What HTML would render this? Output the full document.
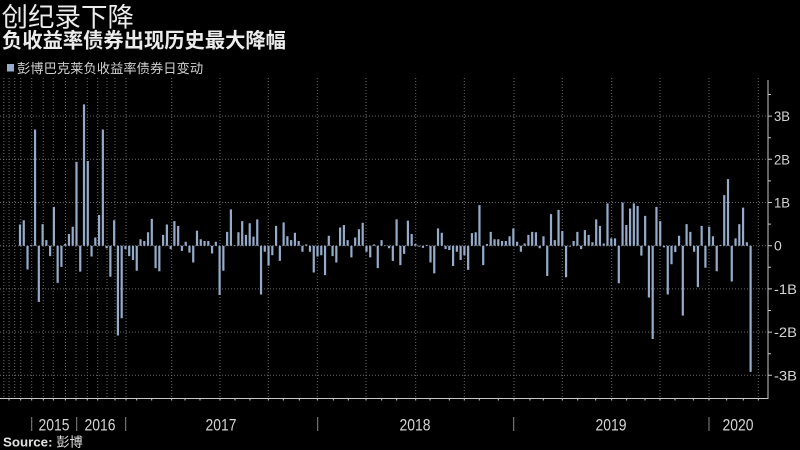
<!DOCTYPE html>
<html><head><meta charset="utf-8"><style>
html,body{margin:0;padding:0;background:#000;}
svg{display:block;}
</style></head><body>
<svg width="800" height="450" viewBox="0 0 800 450" xmlns="http://www.w3.org/2000/svg">
<rect width="800" height="450" fill="#000"/>
<text x="1.5" y="26.5" font-family="'Liberation Sans','Noto Sans CJK SC',sans-serif" font-size="26.5" fill="#ececec">创纪录下降</text>
<text x="2" y="47.5" font-family="'Liberation Sans','Noto Sans CJK SC',sans-serif" font-size="20.3" font-weight="bold" fill="#ececec">负收益率债券出现历史最大降幅</text>
<rect x="7" y="64" width="7" height="7.5" fill="#95abc9"/>
<text x="17" y="73" font-family="'Liberation Sans','Noto Sans CJK SC',sans-serif" font-size="13.3" fill="#cfcfcf">彭博巴克莱负收益率债券日变动</text>

<g stroke="#6a6a6a" stroke-width="1" stroke-dasharray="1,2" fill="none">
<path d="M0 116.1H768M0 159.3H768M0 202.5H768M0 245.7H768M0 288.9H768M0 332.1H768M0 375.3H768"/>
<path d="M3.8 78V398M9 78V398M14.7 78V398M20.7 78V398M31.7 78V398M43.3 78V398M53.3 78V398M65.5 78V398M76 78V398M87.3 78V398M97.7 78V398M107 78V398M115 78V398M126 78V398M171.7 78V398M220 78V398M268.3 78V398M317.3 78V398M366 78V398M415.7 78V398M464.3 78V398M514 78V398M562.3 78V398M611.7 78V398M660 78V398M709 78V398M758.3 78V398"/>
</g>

<g transform="translate(18.9,245.7) scale(3.766,-43.2)" fill="#95abc9">
<path d="M0 0h.584V0.49h-.584zM1 0h.584V0.59h-.584zM2 0h.584V-0.55h-.584zM3 0h.584V0.02h-.584zM4 0h.584V2.69h-.584zM5 0h.584V-1.30h-.584zM6 0h.584V0.50h-.584zM7 0h.584V0.13h-.584zM8 0h.584V-0.24h-.584zM9 0h.584V0.90h-.584zM10 0h.584V-0.86h-.584zM11 0h.584V-0.49h-.584zM12 0h.584V0.04h-.584zM13 0h.584V0.27h-.584zM14 0h.584V0.44h-.584zM15 0h.584V1.94h-.584zM16 0h.584V-0.60h-.584zM17 0h.584V3.27h-.584zM18 0h.584V1.96h-.584zM19 0h.584V-0.25h-.584zM20 0h.584V0.19h-.584zM21 0h.584V0.71h-.584zM22 0h.584V2.69h-.584zM23 0h.584V-0.06h-.584zM24 0h.584V-0.72h-.584zM25 0h.584V0.59h-.584zM26 0h.584V-2.08h-.584zM27 0h.584V-1.68h-.584zM28 0h.584V-0.08h-.584zM29 0h.584V-0.24h-.584zM30 0h.584V-0.33h-.584zM31 0h.584V-0.58h-.584zM32 0h.584V0.15h-.584zM33 0h.584V0.11h-.584zM34 0h.584V0.31h-.584zM35 0h.584V0.62h-.584zM36 0h.584V-0.52h-.584zM37 0h.584V-0.59h-.584zM38 0h.584V0.25h-.584zM39 0h.584V0.49h-.584zM40 0h.584V-0.08h-.584zM41 0h.584V0.57h-.584zM42 0h.584V0.46h-.584zM43 0h.584V-0.12h-.584zM44 0h.584V0.09h-.584zM45 0h.584V-0.16h-.584zM46 0h.584V-0.39h-.584zM47 0h.584V0.35h-.584zM48 0h.584V0.15h-.584zM49 0h.584V0.11h-.584zM50 0h.584V0.11h-.584zM51 0h.584V-0.18h-.584zM52 0h.584V0.09h-.584zM53 0h.584V-1.14h-.584zM54 0h.584V-0.58h-.584zM55 0h.584V0.32h-.584zM56 0h.584V0.84h-.584zM57 0h.584V0.01h-.584zM58 0h.584V0.31h-.584zM59 0h.584V0.57h-.584zM60 0h.584V0.25h-.584zM61 0h.584V0.52h-.584zM62 0h.584V0.21h-.584zM63 0h.584V0.61h-.584zM64 0h.584V-1.13h-.584zM65 0h.584V-0.14h-.584zM66 0h.584V-0.46h-.584zM67 0h.584V-0.22h-.584zM68 0h.584V0.46h-.584zM69 0h.584V-0.35h-.584zM70 0h.584V0.54h-.584zM71 0h.584V0.22h-.584zM72 0h.584V0.13h-.584zM73 0h.584V0.30h-.584zM74 0h.584V0.11h-.584zM75 0h.584V-0.14h-.584zM76 0h.584V0.03h-.584zM77 0h.584V-0.14h-.584zM78 0h.584V-0.62h-.584zM79 0h.584V-0.25h-.584zM80 0h.584V-0.22h-.584zM81 0h.584V-0.68h-.584zM82 0h.584V0.23h-.584zM83 0h.584V-0.24h-.584zM84 0h.584V-0.39h-.584zM85 0h.584V0.42h-.584zM86 0h.584V0.48h-.584zM87 0h.584V0.13h-.584zM88 0h.584V-0.27h-.584zM89 0h.584V0.19h-.584zM90 0h.584V0.38h-.584zM91 0h.584V0.53h-.584zM92 0h.584V-0.14h-.584zM93 0h.584V-0.27h-.584zM94 0h.584V0.03h-.584zM95 0h.584V-0.52h-.584zM96 0h.584V0.13h-.584zM97 0h.584V0.01h-.584zM98 0h.584V-0.06h-.584zM99 0h.584V-0.35h-.584zM100 0h.584V0.61h-.584zM101 0h.584V-0.45h-.584zM102 0h.584V-0.19h-.584zM103 0h.584V0.58h-.584zM104 0h.584V0.27h-.584zM105 0h.584V0.04h-.584zM106 0h.584V-0.02h-.584zM107 0h.584V-0.05h-.584zM108 0h.584V0.02h-.584zM109 0h.584V-0.39h-.584zM110 0h.584V-0.64h-.584zM111 0h.584V0.40h-.584zM112 0h.584V0.30h-.584zM113 0h.584V-0.08h-.584zM114 0h.584V-0.10h-.584zM115 0h.584V-0.47h-.584zM116 0h.584V-0.14h-.584zM117 0h.584V-0.33h-.584zM118 0h.584V-0.22h-.584zM119 0h.584V-0.56h-.584zM120 0h.584V0.29h-.584zM121 0h.584V0.31h-.584zM122 0h.584V0.94h-.584zM123 0h.584V-0.45h-.584zM124 0h.584V0.04h-.584zM125 0h.584V0.32h-.584zM126 0h.584V0.15h-.584zM127 0h.584V0.15h-.584zM128 0h.584V0.11h-.584zM129 0h.584V0.11h-.584zM130 0h.584V0.22h-.584zM131 0h.584V0.40h-.584zM132 0h.584V0.09h-.584zM133 0h.584V-0.14h-.584zM134 0h.584V0.05h-.584zM135 0h.584V0.25h-.584zM136 0h.584V0.32h-.584zM137 0h.584V0.31h-.584zM138 0h.584V-0.06h-.584zM139 0h.584V0.22h-.584zM140 0h.584V-0.70h-.584zM141 0h.584V0.73h-.584zM142 0h.584V0.13h-.584zM143 0h.584V0.83h-.584zM144 0h.584V0.34h-.584zM145 0h.584V-0.73h-.584zM146 0h.584V-0.02h-.584zM147 0h.584V0.11h-.584zM148 0h.584V0.32h-.584zM149 0h.584V-0.08h-.584zM150 0h.584V0.36h-.584zM151 0h.584V0.25h-.584zM152 0h.584V0.08h-.584zM153 0h.584V0.61h-.584zM154 0h.584V0.46h-.584zM155 0h.584V0.05h-.584zM156 0h.584V0.98h-.584zM157 0h.584V0.17h-.584zM158 0h.584V0.17h-.584zM159 0h.584V-0.87h-.584zM160 0h.584V1.00h-.584zM161 0h.584V0.48h-.584zM162 0h.584V0.86h-.584zM163 0h.584V0.98h-.584zM164 0h.584V0.92h-.584zM165 0h.584V-0.23h-.584zM166 0h.584V0.69h-.584zM167 0h.584V-1.20h-.584zM168 0h.584V-2.16h-.584zM169 0h.584V0.90h-.584zM170 0h.584V0.57h-.584zM171 0h.584V-0.04h-.584zM172 0h.584V-1.13h-.584zM173 0h.584V-0.43h-.584zM174 0h.584V-0.15h-.584zM175 0h.584V0.23h-.584zM176 0h.584V-1.62h-.584zM177 0h.584V0.50h-.584zM178 0h.584V0.32h-.584zM179 0h.584V-0.14h-.584zM180 0h.584V-0.96h-.584zM181 0h.584V0.46h-.584zM182 0h.584V-0.51h-.584zM183 0h.584V0.44h-.584zM184 0h.584V0.22h-.584zM185 0h.584V-0.59h-.584zM186 0h.584V0.02h-.584zM187 0h.584V1.17h-.584zM188 0h.584V1.54h-.584zM189 0h.584V-0.83h-.584zM190 0h.584V0.17h-.584zM191 0h.584V0.50h-.584zM192 0h.584V0.88h-.584zM193 0h.584V0.08h-.584zM194 0h.584V-2.92h-.584z"/>
</g>

<g stroke="#c8c8c8" stroke-width="1" fill="none">
<path d="M768 80V399M0 398.5H768.5"/>
<path d="M768 116.1h4M768 159.3h4M768 202.5h4M768 245.7h4M768 288.9h4M768 332.1h4M768 375.3h4"/>
<path d="M768 94.5h3M768 137.7h3M768 180.9h3M768 224.1h3M768 267.3h3M768 310.5h3M768 353.7h3"/>
<path d="M9 398.5v2M20.7 398.5v2M31.7 398.5v2M43.3 398.5v2M53.3 398.5v2M65.3 398.5v2M76 398.5v2M87.3 398.5v2M97.7 398.5v2M115 398.5v2M126 398.5v2M136.7 398.5v2M151.7 398.5v2M171.7 398.5v2M185 398.5v2M200 398.5v2M220 398.5v2M235 398.5v2M250 398.5v2M268.3 398.5v2M283.3 398.5v2M299.3 398.5v2M317.3 398.5v2M333.3 398.5v2M348.3 398.5v2M366 398.5v2M381.7 398.5v2M396.7 398.5v2M415.7 398.5v2M430 398.5v2M449.3 398.5v2M464.3 398.5v2M479.3 398.5v2M498.3 398.5v2M514 398.5v2M530 398.5v2M543.3 398.5v2M562.3 398.5v2M577.7 398.5v2M595.7 398.5v2M611.7 398.5v2M626.7 398.5v2M645 398.5v2M660 398.5v2M675 398.5v2M693.3 398.5v2M709 398.5v2M726.7 398.5v2M743.3 398.5v2M758.3 398.5v2"/>
</g>
<g stroke="#8a8a8a" stroke-width="1">
<path d="M31.7 417V431M76.7 417V431M125.7 417V431M317.7 417V431M513.7 417V431M709 417V431"/>
</g>

<g font-family="'Liberation Sans',sans-serif" font-size="14" fill="#d4d4d4">
<text x="774" y="121.1" textLength="16" lengthAdjust="spacingAndGlyphs">3B</text>
<text x="774" y="164.3" textLength="16" lengthAdjust="spacingAndGlyphs">2B</text>
<text x="774" y="207.5" textLength="16" lengthAdjust="spacingAndGlyphs">1B</text>
<text x="774" y="250.7">0</text>
<text x="774" y="293.9" textLength="23" lengthAdjust="spacingAndGlyphs">-1B</text>
<text x="774" y="337.1" textLength="23" lengthAdjust="spacingAndGlyphs">-2B</text>
<text x="774" y="380.3" textLength="23" lengthAdjust="spacingAndGlyphs">-3B</text>
</g>
<g font-family="'Liberation Sans',sans-serif" font-size="17" fill="#d4d4d4">
<text x="38.5" y="430.5" textLength="31" lengthAdjust="spacingAndGlyphs">2015</text>
<text x="84.5" y="430.5" textLength="31" lengthAdjust="spacingAndGlyphs">2016</text>
<text x="205.5" y="430.5" textLength="31" lengthAdjust="spacingAndGlyphs">2017</text>
<text x="399.5" y="430.5" textLength="31" lengthAdjust="spacingAndGlyphs">2018</text>
<text x="595.5" y="430.5" textLength="31" lengthAdjust="spacingAndGlyphs">2019</text>
<text x="722.5" y="430.5" textLength="31" lengthAdjust="spacingAndGlyphs">2020</text>
</g>
<text x="3" y="446.5" font-family="'Liberation Sans','Noto Sans CJK SC',sans-serif" font-size="13.3" font-weight="bold" fill="#e0e0e0">Source: <tspan font-weight="normal">彭博</tspan></text>
</svg>
</body></html>
